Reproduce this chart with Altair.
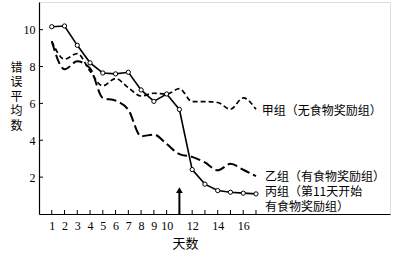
import altair as alt
import pandas as pd

days = list(range(1, 18))
jia = [9.37, 8.4, 8.7, 7.75, 6.95, 7.35, 6.85, 6.4, 6.55, 6.5, 6.8, 6.1, 6.1, 6.05, 5.68, 6.3, 5.68]
yi = [9.37, 7.85, 8.28, 7.9, 6.3, 6.15, 5.65, 4.22, 4.31, 3.8, 3.25, 3.1, 2.8, 2.37, 2.72, 2.4, 2.05]
bing = [10.16, 10.2, 9.15, 8.2, 7.65, 7.6, 7.69, 6.73, 6.11, 6.51, 5.67, 2.41, 1.62, 1.27, 1.18, 1.13, 1.09]

x_labels = [1, 2, 3, 4, 5, 6, 7, 8, 9, 10, 12, 14, 16]
x_ticks = list(range(1, 18))
y_labels = [2, 4, 6, 8, 10]

label_texts = ["甲组（无食物奖励组）", "乙组（有食物奖励组）", "丙组（第11天开始", "有食物奖励组）"]
label_x = [17.45, 17.7, 17.7, 17.7]
label_y = [5.57, 1.99, 1.18, 0.39]

arrow_day = [11]
arrow_top = [1.3]

CJK = "Noto Sans CJK SC"
SERIF = "Liberation Serif"

W, H = 351, 212
xs = alt.Scale(domain=[0, 27.5], nice=False, zero=False)
ys = alt.Scale(domain=[0, 11.5], nice=False, zero=False)

x_axis = alt.Axis(values=x_labels, tickSize=0, grid=False, labelPadding=6,
                  labelOverlap=False, labelFlush=False, labelBound=False,
                  labelFont=SERIF, labelFontSize=12, labelColor="black",
                  domainColor="black", domainWidth=1.2,
                  title="天数", titleFont=CJK, titleFontSize=13,
                  titleFontWeight="normal", titleColor="black",
                  titleX=146, titleY=29, titleBaseline="middle", titleAlign="center")
y_axis = alt.Axis(values=y_labels, tickSize=0, grid=False, labelPadding=4,
                  labelOverlap=False, labelFlush=False,
                  labelFont=SERIF, labelFontSize=12, labelColor="black",
                  domainColor="black", domainWidth=1.2,
                  title=["错", "误", "平", "均", "数"], titleAngle=0,
                  titleFont=CJK, titleFontSize=12, titleFontWeight="normal",
                  titleColor="black", titleLineHeight=14.5,
                  titleX=-23, titleY=60, titleBaseline="top", titleAlign="center")


def X(f):
    return alt.X(f, scale=xs, axis=x_axis)


def Y(f):
    return alt.Y(f, scale=ys, axis=y_axis)


df = pd.DataFrame({"day": days, "jia": jia, "yi": yi, "bing": bing})
base = alt.Chart(df)

jia_line = base.mark_line(color="black", strokeWidth=1.7, strokeDash=[5, 3], interpolate="monotone").encode(
    x=X("day:Q"), y=Y("jia:Q"))
yi_line = base.mark_line(color="black", strokeWidth=2, strokeDash=[10, 4], interpolate="monotone").encode(
    x=X("day:Q"), y=Y("yi:Q"))
bing_line = base.mark_line(color="black", strokeWidth=1.6).encode(x=X("day:Q"), y=Y("bing:Q"))
bing_pts = base.mark_point(filled=True, fill="white", stroke="black", strokeWidth=1, size=18, opacity=1).encode(
    x=X("day:Q"), y=Y("bing:Q"))

xt = alt.Chart(pd.DataFrame({"day": x_ticks})).mark_rule(color="black", strokeWidth=1).encode(
    x=X("day:Q"), y=alt.value(H), y2=alt.value(H - 4))
yt = alt.Chart(pd.DataFrame({"v": y_labels})).mark_rule(color="black", strokeWidth=1).encode(
    y=Y("v:Q"), x=alt.value(0), x2=alt.value(4))

adf = pd.DataFrame({"day": arrow_day, "top": arrow_top, "zero": [0]})
arrow_shaft = alt.Chart(adf).mark_rule(color="black", strokeWidth=2).encode(
    x=X("day:Q"), y=Y("zero:Q"), y2="top:Q")
arrow_head = alt.Chart(adf).mark_point(shape="triangle-up", filled=True, color="black", size=45, opacity=1).encode(
    x=X("day:Q"), y=Y("top:Q"))

ldf = pd.DataFrame({"text": label_texts, "day": label_x, "v": label_y})
labels = alt.Chart(ldf).mark_text(align="left", baseline="middle", font=CJK, fontSize=12, color="black").encode(
    x=X("day:Q"), y=Y("v:Q"), text="text:N")

chart = alt.layer(jia_line, yi_line, bing_line, bing_pts, xt, yt, arrow_shaft, arrow_head, labels).properties(
    width=W, height=H,
    autosize=alt.AutoSizeParams(type="none"),
    padding={"left": 39, "top": 2, "right": 10, "bottom": 43},
).configure_view(stroke=None).configure_axis(labelOverlap=False).configure(background="white")

chart.save("out.html", embed_options={"renderer": "svg", "actions": False})
